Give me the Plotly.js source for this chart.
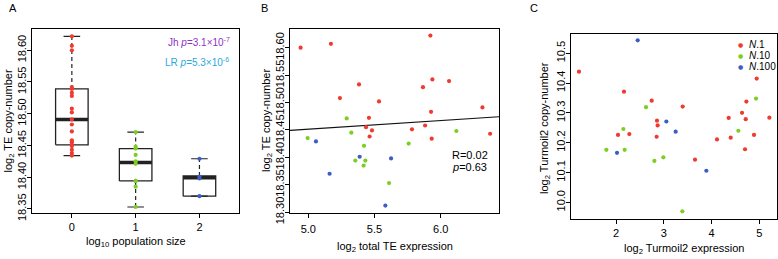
<!DOCTYPE html>
<html>
<head>
<meta charset="utf-8">
<script src="https://cdn.plot.ly/plotly-3.0.1.min.js"></script>
<style>html,body{margin:0;padding:0;background:#fff;}#chart{width:778px;height:259px;}</style>
</head>
<body>
<div id="chart"></div>
<script>
// ---------- DATA ----------
// Panel A box groups (log10 population size)
const groupPos = [0, 1, 2];
const groupTicks = ['0', '1', '2'];
const boxLo  = [18.434, 18.353, 18.370];
const boxQ1  = [18.451, 18.394, 18.370];
const boxMed = [18.491, 18.423, 18.399];
const boxQ3  = [18.539, 18.445, 18.402];
const boxHi  = [18.622, 18.471, 18.429];

// Panel A/B: TE copy-number (y) and total TE expression (x) per line
const n1ExprB = [4.942,5.171,5.922,5.383,5.937,6.063,5.866,5.239,5.534,6.315,5.927,5.458,5.436,5.481,5.783,5.882,5.463,5.932,6.373];
const n1Copy  = [18.600,18.607,18.622,18.533,18.542,18.539,18.528,18.508,18.502,18.491,18.483,18.472,18.455,18.449,18.451,18.458,18.438,18.434,18.443];
const n10ExprB = [5.290,4.995,5.325,5.421,5.758,6.118,5.355,5.431,5.418,5.610];
const n10Copy  = [18.471,18.435,18.445,18.421,18.425,18.448,18.394,18.394,18.385,18.353];
const n100ExprB = [5.058,5.388,5.625,5.161,5.582];
const n100Copy  = [18.429,18.401,18.398,18.370,18.312];

// Panel B regression line (endpoints read at the frame edges)
const regX = [4.862, 6.440];
const regY = [18.449, 18.474];

// Panel C: Turmoil2 expression (x) and copy-number (y)
const n1ExprC = [1.225,2.167,2.747,3.396,2.858,2.872,2.851,2.042,2.279,3.654,4.114,4.359,4.401,4.638,4.729,4.945,4.715,4.889,4.701,5.210];
const n1CopyC = [10.438,10.371,10.341,10.321,10.274,10.258,10.220,10.226,10.229,10.143,10.211,10.283,10.217,10.300,10.338,10.415,10.279,10.226,10.178,10.284];
const n10ExprC = [1.798,2.154,2.181,2.628,2.991,2.803,4.561,4.931,3.389];
const n10CopyC = [10.176,10.246,10.176,10.319,10.151,10.139,10.240,10.348,9.970];
const n100ExprC = [2.454,2.021,3.054,3.249,3.891];
const n100CopyC = [10.543,10.166,10.271,10.237,10.106];

const legendLabels = ['<i>N</i>.1', '<i>N</i>.10', '<i>N</i>.100'];

// ---------- STYLE ----------
const RED = '#ef3b2f', GREEN = '#7ccf22', BLUE = '#3c5ec4';
const groupColors = [RED, GREEN, BLUE];
const FONT = 'Liberation Sans, Arial, Helvetica, sans-serif';
const W = 778, H = 259;
const px = v => v / W;
const py = v => 1 - v / H;
const MS = 4.2;

const traces = [];

// Panel A boxes built from the box stats
const hw = 0.255, cw = 0.13, boxLine = '#222';
const rectX = [], rectY = [], whiskX = [], whiskY = [], capX = [], capY = [], medX = [], medY = [];
groupPos.forEach((p, i) => {
  rectX.push(p - hw, p + hw, p + hw, p - hw, p - hw, null);
  rectY.push(boxQ1[i], boxQ1[i], boxQ3[i], boxQ3[i], boxQ1[i], null);
  whiskX.push(p, p, null, p, p, null);
  whiskY.push(boxQ3[i], boxHi[i], null, boxLo[i], boxQ1[i], null);
  capX.push(p - cw, p + cw, null, p - cw, p + cw, null);
  capY.push(boxHi[i], boxHi[i], null, boxLo[i], boxLo[i], null);
  medX.push(p - hw, p + hw, null);
  medY.push(boxMed[i], boxMed[i], null);
});
const lineTrace = (x, y, w, dash, xa, ya) => ({type: 'scatter', mode: 'lines', x, y, xaxis: xa, yaxis: ya,
  line: {color: boxLine, width: w, dash: dash || 'solid'}, hoverinfo: 'skip', showlegend: false, connectgaps: false});
traces.push(lineTrace(whiskX, whiskY, 1.2, '4px,3px', 'x', 'y'));
traces.push(lineTrace(capX, capY, 1.2, null, 'x', 'y'));
traces.push(lineTrace(rectX, rectY, 1.3, null, 'x', 'y'));
traces.push(lineTrace(medX, medY, 3.5, null, 'x', 'y'));

// Panel A points (stripchart at group centres)
[n1Copy, n10Copy, n100Copy].forEach((ys, i) => {
  traces.push({type: 'scatter', mode: 'markers', x: ys.map(() => groupPos[i]), y: ys, xaxis: 'x', yaxis: 'y',
    marker: {color: groupColors[i], size: MS}, showlegend: false});
});

// Panel B
traces.push({type: 'scatter', mode: 'lines', x: regX, y: regY, xaxis: 'x2', yaxis: 'y2',
  line: {color: '#111', width: 1.2}, showlegend: false});
[[n1ExprB, n1Copy], [n10ExprB, n10Copy], [n100ExprB, n100Copy]].forEach((d, i) => {
  traces.push({type: 'scatter', mode: 'markers', x: d[0], y: d[1], xaxis: 'x2', yaxis: 'y2',
    marker: {color: groupColors[i], size: MS}, showlegend: false});
});

// Panel C
[[n1ExprC, n1CopyC], [n10ExprC, n10CopyC], [n100ExprC, n100CopyC]].forEach((d, i) => {
  traces.push({type: 'scatter', mode: 'markers', x: d[0], y: d[1], xaxis: 'x3', yaxis: 'y3',
    marker: {color: groupColors[i], size: MS}, showlegend: false});
});

const axBase = {showline: true, mirror: true, linecolor: '#000', linewidth: 1, showgrid: false, zeroline: false,
  ticks: 'outside', ticklen: 4, tickwidth: 1, tickcolor: '#000', tickfont: {family: FONT, size: 11, color: '#000'}, fixedrange: true};
const yBase = Object.assign({}, axBase, {tickangle: -90, ticklabelstandoff: -3});

const layout = {
  width: W, height: H, margin: {l: 0, r: 0, t: 0, b: 0}, paper_bgcolor: '#fff', plot_bgcolor: '#fff',
  font: {family: FONT, size: 11, color: '#000'}, showlegend: false,
  xaxis: Object.assign({}, axBase, {domain: [px(32.3), px(239)], range: [-0.62, 2.62], tickvals: groupPos, ticktext: groupTicks, anchor: 'y'}),
  yaxis: Object.assign({}, yBase, {domain: [py(212.7), py(29.3)], range: [18.344, 18.633], tick0: 18.35, dtick: 0.05, tickformat: '.2f', anchor: 'x'}),
  xaxis2: Object.assign({}, axBase, {domain: [px(290), px(499)], range: [4.862, 6.44], tickvals: [5.0, 5.5, 6.0], tickformat: '.1f', anchor: 'y2', ticklabelstandoff: 2}),
  yaxis2: Object.assign({}, yBase, {domain: [py(212.7), py(29)], range: [18.299, 18.634], tick0: 18.30, dtick: 0.05, tickformat: '.2f', anchor: 'x2'}),
  xaxis3: Object.assign({}, axBase, {domain: [px(571), px(777)], range: [1.058, 5.37], tick0: 2, dtick: 1, anchor: 'y3'}),
  yaxis3: Object.assign({}, yBase, {domain: [py(218.5), py(33.5)], range: [9.946, 10.566], tick0: 10.0, dtick: 0.1, tickformat: '.1f', anchor: 'x3'}),
  annotations: []
};

const ann = (text, x, y, opts) => Object.assign({text, x: px(x), y: py(y), xref: 'paper', yref: 'paper', showarrow: false,
  xanchor: 'center', yanchor: 'middle', font: {family: FONT, size: 11, color: '#000'}}, opts || {});

const A = layout.annotations;
A.push(ann('A', 12.5, 7.5));
A.push(ann('B', 264, 7.5));
A.push(ann('C', 534, 7.5));
A.push(ann('Jh <i>p</i>=3.1×10<sup>-7</sup>', 232, 41.7, {xanchor: 'right', font: {family: FONT, size: 10, color: '#8f2fc4'}}));
A.push(ann('LR <i>p</i>=5.3×10<sup>-6</sup>', 231, 61.7, {xanchor: 'right', font: {family: FONT, size: 10, color: '#2aa9de'}}));
A.push(ann('R=0.02', 450, 155, {xanchor: 'left'}));
A.push(ann('<i>p</i>=0.63', 450, 166.5, {xanchor: 'left'}));
// axis titles
A.push(ann('log<sub>10</sub> population size', 136, 242));
A.push(ann('log<sub>2</sub> total TE expression', 394.5, 246.5));
A.push(ann('log<sub>2</sub> Turmoil2 expression', 684, 249));
A.push(ann('log<sub>2</sub> TE copy-number', 8.5, 121, {textangle: -90}));
A.push(ann('log<sub>2</sub> TE copy-number', 267, 121, {textangle: -90}));
A.push(ann('log<sub>2</sub> Turmoil2 copy-number', 545, 128, {textangle: -90}));
// legend for panel C
legendLabels.forEach((lab, i) => {
  const yy = 44.5 + i * 11;
  A.push(ann('●', 740.7, yy, {borderpad: 0, font: {family: 'DejaVu Sans', size: 6, color: groupColors[i]}}));
  A.push(ann(lab, 748, yy, {xanchor: 'left', borderpad: 0, font: {family: FONT, size: 10, color: '#000'}}));
});

Plotly.newPlot('chart', traces, layout, {displayModeBar: false, staticPlot: true});
</script>
</body>
</html>
